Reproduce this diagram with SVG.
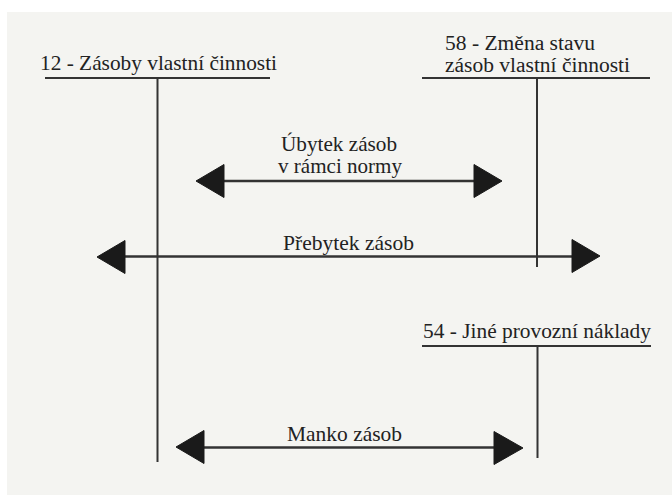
<svg xmlns="http://www.w3.org/2000/svg" width="672" height="495" viewBox="0 0 672 495">
  <defs>
    <style>
      .t { font-family: "Liberation Serif", "Times New Roman", Times, serif; font-size: 21px; fill: #222; }
      .t2 { font-size: 20px; }
      .ln { stroke: #333; stroke-width: 2; fill: none; }
      .ar { stroke: #333; stroke-width: 2.5; fill: none; }
      .hd { fill: #1a1a1a; stroke: #1a1a1a; stroke-width: 1; stroke-linejoin: round; }
    </style>
  </defs>
  <rect x="0" y="0" width="672" height="495" fill="#ffffff"/>
  <rect x="7" y="12" width="665" height="483" fill="#f4f4f1"/>

  <g id="account-12">
    <text class="t" x="40" y="70" textLength="237" lengthAdjust="spacingAndGlyphs">12 - Zásoby vlastní činnosti</text>
    <line class="ln" x1="45" y1="78" x2="270" y2="78"/>
    <line class="ln" x1="157.5" y1="78" x2="157.5" y2="462"/>
  </g>

  <g id="account-58">
    <text class="t t2" x="445" y="50" textLength="150" lengthAdjust="spacingAndGlyphs">58 - Změna stavu</text>
    <text class="t t2" x="445" y="72" textLength="185" lengthAdjust="spacingAndGlyphs">zásob vlastní činnosti</text>
    <line class="ln" x1="422" y1="78" x2="650" y2="78"/>
    <line class="ln" x1="537" y1="78" x2="537" y2="267"/>
  </g>

  <g id="account-54">
    <text class="t" x="423" y="338" textLength="228" lengthAdjust="spacingAndGlyphs">54 - Jiné provozní náklady</text>
    <line class="ln" x1="422" y1="346" x2="651" y2="346"/>
    <line class="ln" x1="537.5" y1="346" x2="537.5" y2="458"/>
  </g>

  <g id="connectors">
    <g id="ubytek">
      <line class="ar" x1="220" y1="181" x2="476" y2="181"/>
      <polygon class="hd" points="196,181 224,164.5 224,197.5"/>
      <polygon class="hd" points="502,181 474,164.5 474,197.5"/>
      <text class="t" x="281" y="151" textLength="116" lengthAdjust="spacingAndGlyphs">Úbytek zásob</text>
      <text class="t" x="278" y="173" textLength="124" lengthAdjust="spacingAndGlyphs">v rámci normy</text>
    </g>
    <g id="prebytek">
      <line class="ar" x1="120" y1="256.5" x2="575" y2="256.5"/>
      <polygon class="hd" points="97,257 125,240.5 125,273.5"/>
      <polygon class="hd" points="600,256 572,239.5 572,272.5"/>
      <text class="t" x="283" y="250" textLength="131" lengthAdjust="spacingAndGlyphs">Přebytek zásob</text>
    </g>
    <g id="manko">
      <line class="ar" x1="200" y1="447.5" x2="497" y2="447.5"/>
      <polygon class="hd" points="176,447 204,430.5 204,463.5"/>
      <polygon class="hd" points="523,448 494,431.5 494,464.5"/>
      <text class="t" x="287" y="441" textLength="115" lengthAdjust="spacingAndGlyphs">Manko zásob</text>
    </g>
  </g>
</svg>
